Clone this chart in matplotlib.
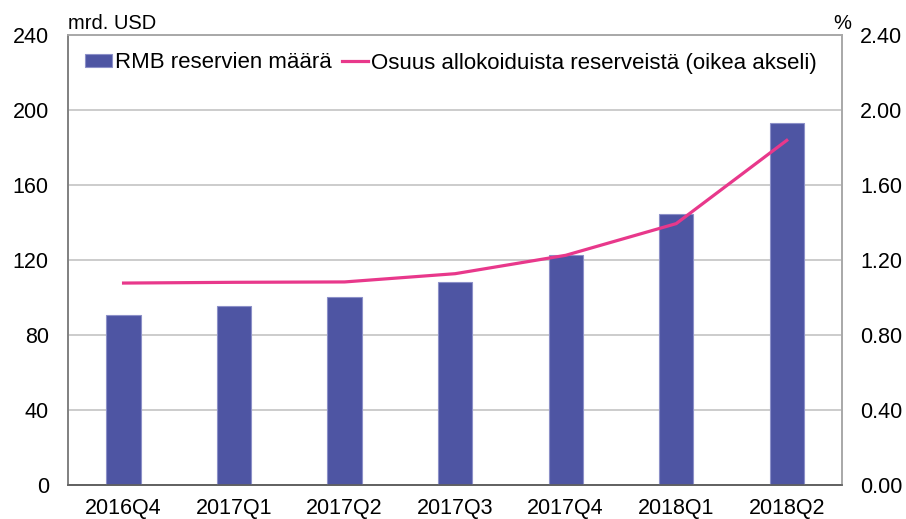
import matplotlib
matplotlib.use("Agg")
import matplotlib.pyplot as plt
import numpy as np
from matplotlib.ticker import FormatStrFormatter

categories = ["2016Q4", "2017Q1", "2017Q2", "2017Q3", "2017Q4", "2018Q1", "2018Q2"]
rmb_reserves = [90.7, 95.5, 100.1, 108.1, 122.5, 144.7, 193.1]
share_pct = [1.077, 1.081, 1.083, 1.127, 1.225, 1.394, 1.838]
left_ticks = [0, 40, 80, 120, 160, 200, 240]
right_ticks = [0.0, 0.4, 0.8, 1.2, 1.6, 2.0, 2.4]

plt.rcParams['font.family'] = ['Liberation Sans', 'DejaVu Sans']

bar_color = "#4E55A3"
line_color = "#E8388B"

fig = plt.figure(figsize=(9.06, 5.19), dpi=100)
ax = fig.add_axes([68.3/906, 34/519, (842-68.3)/906, (485-35)/519])
ax2 = ax.twinx()

x = np.arange(len(categories))
bars = ax.bar(x, rmb_reserves, width=0.31, color=bar_color, edgecolor="#8C90C8",
              linewidth=0.8, label="RMB reservien määrä", zorder=3)
line, = ax2.plot(x, share_pct, color=line_color, linewidth=2.3,
                 label="Osuus allokoiduista reserveistä (oikea akseli)", zorder=4)

ax.set_xlim(-0.5, len(categories) - 0.5)
ax.set_ylim(0, 240)
ax2.set_ylim(0, 2.4)
ax.set_yticks(left_ticks)
ax2.set_yticks(right_ticks)
ax2.yaxis.set_major_formatter(FormatStrFormatter('%.2f'))
ax.set_xticks(x)
ax.set_xticklabels(categories)

ax.grid(axis='y', color="#C4C4C4", linewidth=1.2, zorder=0)
ax.set_axisbelow(True)

ax.tick_params(axis='y', length=0, pad=14, labelsize=15.5)
ax.tick_params(axis='x', length=0, pad=9.5, labelsize=15.5)
ax2.tick_params(axis='y', length=0, pad=13, labelsize=15.5)

for a in (ax, ax2):
    a.spines['left'].set_color("#808080")
    a.spines['bottom'].set_color("#606060")
    a.spines['top'].set_color("#A8A8A8")
    a.spines['right'].set_color("#A8A8A8")
    for s in a.spines.values():
        s.set_linewidth(1.2)

ax2.set_zorder(ax.get_zorder() + 1)
ax2.patch.set_visible(False)

fig.text(68/906, 1 - 29/519, "mrd. USD", fontsize=14.5, ha='left', va='baseline')
fig.text(851/906, 1 - 29/519, "%", fontsize=14.5, ha='right', va='baseline')

leg = ax2.legend([bars, line], [bars.get_label(), line.get_label()],
                 loc='center left', bbox_to_anchor=((85 - 68.3) / 773.7, (485 - 63) / 450),
                 ncol=2, frameon=False, borderpad=0, borderaxespad=0,
                 fontsize=16, handlelength=1.2, handleheight=0.5, handletextpad=0.14,
                 columnspacing=0.45)

fig.savefig("out.png", dpi=100)
